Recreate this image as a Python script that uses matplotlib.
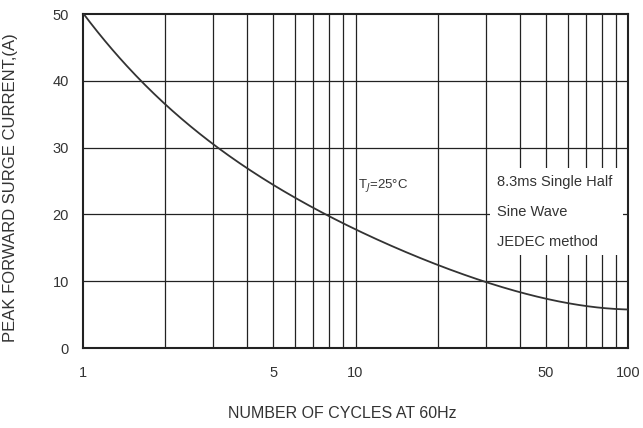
import numpy as np
import matplotlib.pyplot as plt
from matplotlib.patches import Rectangle

plt.rcParams['font.family'] = ['Liberation Sans', 'DejaVu Sans']

# values
cycles = [1, 1.3, 1.65, 2, 3, 4, 5, 7, 8, 10, 15, 20, 30, 40, 50, 70, 100]
current = [50, 44.5, 40, 36.6, 30, 27, 24.3, 21, 20.1, 17.9, 14.5, 12.1, 9.9, 8.4, 7.4, 6.4, 5.7]

xticks = [1, 5, 10, 50, 100]
yticks = [0, 10, 20, 30, 40, 50]
note_lines = ['8.3ms Single Half', 'Sine Wave', 'JEDEC method']

fig = plt.figure(figsize=(6.43, 4.28), dpi=100)
ax = fig.add_axes([83/643, 1-348/428, (628-83)/643, (348-14)/428])

# smooth curve through the read points in log space
lx = np.log10(cycles)
xs = np.linspace(0, 2, 300)
coef = np.polyfit(lx, current, 5)
ax.plot(10**xs, np.polyval(coef, xs), color='#333333', lw=1.3, zorder=3)

ax.set_xscale('log')
ax.set_xlim(1, 100)
ax.set_ylim(0, 50)
ax.set_xticks(xticks)
ax.set_xticklabels([str(t) for t in xticks])
ax.set_xticks([], minor=True)
ax.set_yticks(yticks)

minor = [2, 3, 4, 6, 7, 8, 9, 20, 30, 40, 60, 70, 80, 90]
for m in minor + [5, 10, 50]:
    ax.axvline(m, color='#222222', lw=0.9, zorder=1)
for h in [10, 20, 30, 40]:
    ax.axhline(h, color='#222222', lw=0.9, zorder=1)

ax.tick_params(length=0, labelsize=10.5, colors='#333333')
ax.tick_params(axis='x', pad=13)
ax.tick_params(axis='y', pad=10)
for s in ax.spines.values():
    s.set_linewidth(1.5)
    s.set_color('#222222')

ax.text(10.2, 24.3, r'T$_J$=25°C', fontsize=9.5, color='#333333', va='center', zorder=4)

# white box behind the test conditions note
ax.add_patch(Rectangle((31.2, 13.9), 95.9 - 31.2, 26.9 - 13.9, facecolor='white',
                       edgecolor='none', zorder=2))
for txt, yv in zip(note_lines, [24.8, 20.3, 15.8]):
    ax.text(33.1, yv, txt, fontsize=10.5, color='#333333', va='center', zorder=4)

ax.set_xlabel('NUMBER OF CYCLES AT 60Hz', fontsize=11.5, color='#333333')
ax.xaxis.set_label_coords(0.475, -0.175)
ax.set_ylabel('PEAK FORWARD SURGE CURRENT,(A)', fontsize=12, color='#333333')
ax.yaxis.set_label_coords(-0.12, 0.48)

fig.savefig('out.png', dpi=100)
